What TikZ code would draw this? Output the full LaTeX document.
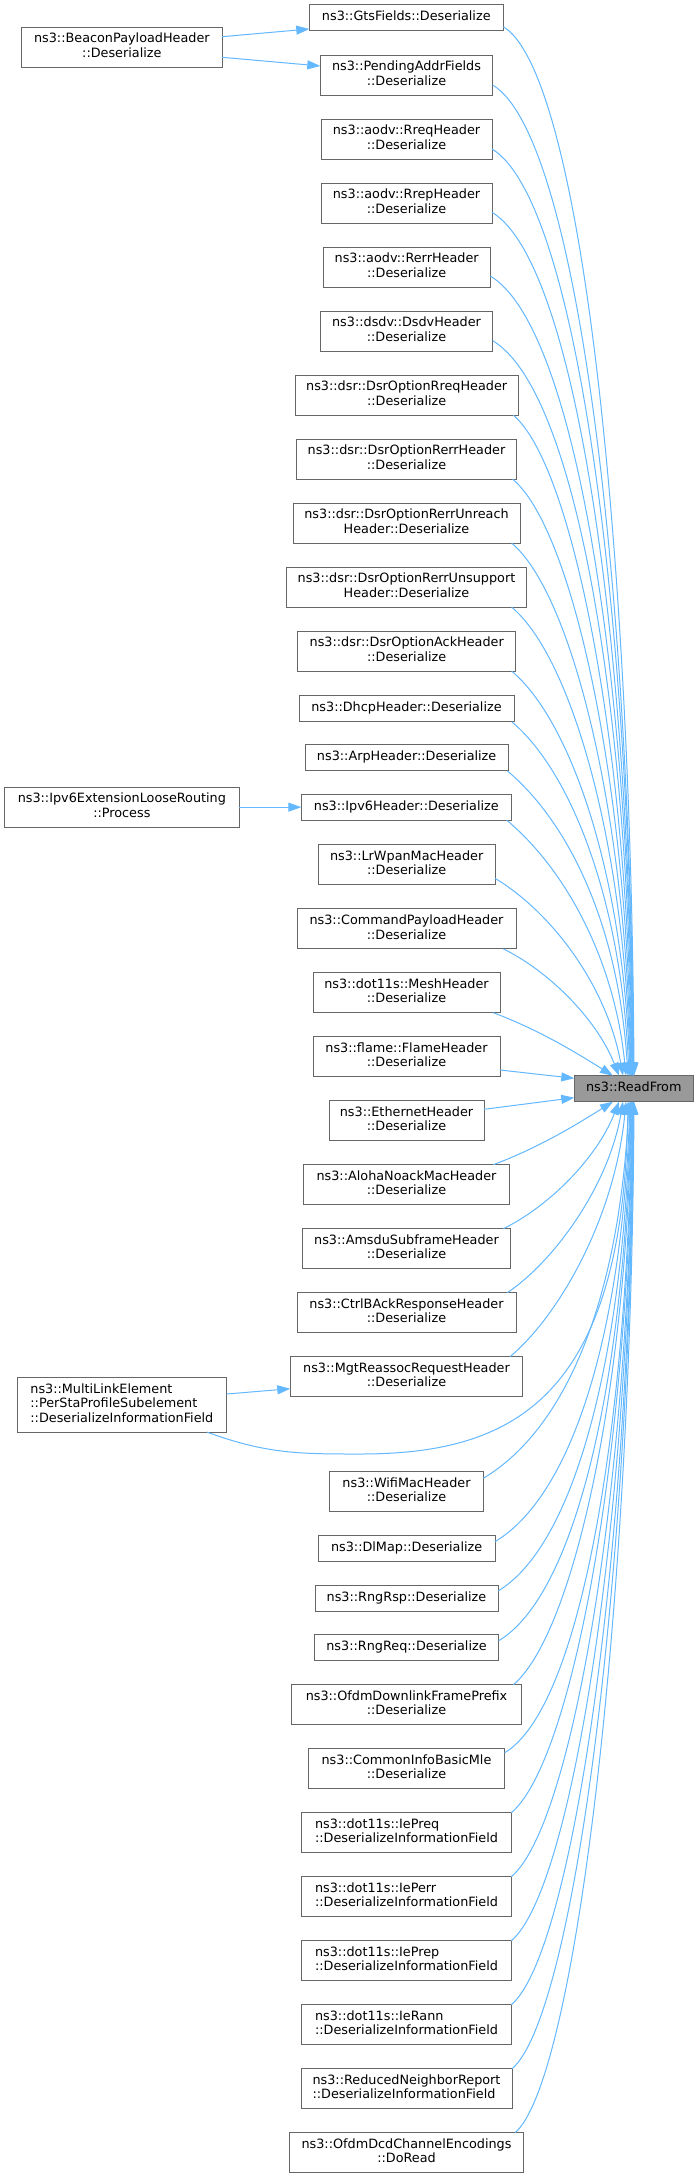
\documentclass[tikz,border=0pt]{standalone}
\usepackage{fontspec}
\setmainfont{DejaVu Sans}
\usetikzlibrary{arrows.meta,calc}
\definecolor{edgecol}{HTML}{63B8FF}
\definecolor{boxborder}{HTML}{666666}
\definecolor{rffill}{HTML}{999999}
\tikzset{
  box/.style={draw=boxborder, fill=white, line width=1pt, inner sep=0pt, outer sep=0pt,
    align=center, font=\fontsize{12.8}{14.5}\selectfont, text height=9pt, text depth=3pt,
    minimum height=26pt},
  two/.style={minimum height=40pt, text height=23.5pt},
  three/.style={minimum height=54.7pt, text height=38pt},
  lbox/.style={align=left},
  edge/.style={draw=edgecol, line width=1pt, -{Triangle[length=13pt,width=9pt]}},
}
\begin{document}
\begin{tikzpicture}[x=1pt,y=-1pt]
\useasboundingbox[fill=white] (0,0) rectangle (699,2178);
% left column
\node[box,two,minimum width=200.3pt] (beacon) at (121.85,47.15) {ns3::BeaconPayloadHeader\\::Deserialize};
\node[box,two,minimum width=234.3pt] (ipv6ext) at (121.85,807.15) {ns3::Ipv6ExtensionLooseRouting\\::Process};
\node[box,three,lbox,minimum width=209.7pt] (multilink) at (121.85,1404.65) {ns3::MultiLinkElement\\::PerStaProfileSubelement\\::DeserializeInformationField};
% middle column
\node[box,minimum width=194pt] (gts) at (406.3,18) {ns3::GtsFields::Deserialize};
\node[box,two,minimum width=172.4pt] (pending) at (406.5,75.15) {ns3::PendingAddrFields\\::Deserialize};
\node[box,two,minimum width=171pt] (rreq) at (406.5,139.15) {ns3::aodv::RreqHeader\\::Deserialize};
\node[box,two,minimum width=171pt] (rrep) at (406.5,203.15) {ns3::aodv::RrepHeader\\::Deserialize};
\node[box,two,minimum width=167.3pt] (rerr) at (406.65,267.15) {ns3::aodv::RerrHeader\\::Deserialize};
\node[box,two,minimum width=172.4pt] (dsdv) at (406.5,331.15) {ns3::dsdv::DsdvHeader\\::Deserialize};
\node[box,two,minimum width=223.3pt] (dsrrreq) at (406.65,395.15) {ns3::dsr::DsrOptionRreqHeader\\::Deserialize};
\node[box,two,minimum width=220.4pt] (dsrrerr) at (406.5,459.15) {ns3::dsr::DsrOptionRerrHeader\\::Deserialize};
\node[box,two,minimum width=227pt] (unreach) at (406.5,523.15) {ns3::dsr::DsrOptionRerrUnreach\\Header::Deserialize};
\node[box,two,minimum width=240.4pt] (unsupport) at (406.5,587.15) {ns3::dsr::DsrOptionRerrUnsupport\\Header::Deserialize};
\node[box,two,minimum width=218pt] (ack) at (406.7,651.15) {ns3::dsr::DsrOptionAckHeader\\::Deserialize};
\node[box,minimum width=215pt] (dhcp) at (406.5,708.7) {ns3::DhcpHeader::Deserialize};
\node[box,minimum width=203.3pt] (arp) at (406.65,757.85) {ns3::ArpHeader::Deserialize};
\node[box,minimum width=210pt] (ipv6) at (406.3,807.15) {ns3::Ipv6Header::Deserialize};
\node[box,two,minimum width=176.7pt] (lrwpan) at (406.65,864.5) {ns3::LrWpanMacHeader\\::Deserialize};
\node[box,two,minimum width=219pt] (command) at (406.5,928.85) {ns3::CommandPayloadHeader\\::Deserialize};
\node[box,two,minimum width=187pt] (mesh) at (406.5,992.7) {ns3::dot11s::MeshHeader\\::Deserialize};
\node[box,two,minimum width=187pt] (flame) at (406.5,1056.7) {ns3::flame::FlameHeader\\::Deserialize};
\node[box,two,minimum width=155pt] (ethernet) at (406.5,1120.7) {ns3::EthernetHeader\\::Deserialize};
\node[box,two,minimum width=205.6pt] (aloha) at (406.5,1184.7) {ns3::AlohaNoackMacHeader\\::Deserialize};
\node[box,two,minimum width=208.4pt] (amsdu) at (406.5,1248.7) {ns3::AmsduSubframeHeader\\::Deserialize};
\node[box,two,minimum width=219pt] (ctrlback) at (406.5,1312.7) {ns3::CtrlBAckResponseHeader\\::Deserialize};
\node[box,two,minimum width=232.4pt] (mgt) at (406.5,1376.7) {ns3::MgtReassocRequestHeader\\::Deserialize};
\node[box,two,minimum width=153.6pt] (wifimac) at (406.5,1491.3) {ns3::WifiMacHeader\\::Deserialize};
\node[box,minimum width=176.7pt] (dlmap) at (406.65,1548.65) {ns3::DlMap::Deserialize};
\node[box,minimum width=183pt] (rngrsp) at (406.5,1598) {ns3::RngRsp::Deserialize};
\node[box,minimum width=184.4pt] (rngreq) at (406.5,1647.35) {ns3::RngReq::Deserialize};
\node[box,two,minimum width=229.6pt] (ofdmdl) at (406.5,1704.7) {ns3::OfdmDownlinkFramePrefix\\::Deserialize};
\node[box,two,minimum width=196.4pt] (commoninfo) at (406.5,1768.7) {ns3::CommonInfoBasicMle\\::Deserialize};
\node[box,two,lbox,minimum width=209.6pt] (iepreq) at (406.5,1832.7) {ns3::dot11s::IePreq\\::DeserializeInformationField};
\node[box,two,lbox,minimum width=209.6pt] (ieperr) at (406.5,1896.7) {ns3::dot11s::IePerr\\::DeserializeInformationField};
\node[box,two,lbox,minimum width=209.6pt] (ieprep) at (406.5,1960.7) {ns3::dot11s::IePrep\\::DeserializeInformationField};
\node[box,two,lbox,minimum width=209.6pt] (ierann) at (406.5,2024.7) {ns3::dot11s::IeRann\\::DeserializeInformationField};
\node[box,two,lbox,minimum width=211pt] (reduced) at (406.5,2088.7) {ns3::ReducedNeighborReport\\::DeserializeInformationField};
\node[box,two,minimum width=233.6pt] (ofdmdcd) at (406.5,2152.7) {ns3::OfdmDcdChannelEncodings\\::DoRead};
% target
\node[box,fill=rffill,minimum width=119pt] (rf) at (633.8,1088.7) {ns3::ReadFrom};
% left-to-middle edges
\draw[edge] ($(beacon.east)+(0,-10.45)$) -- ($(gts.west)+(0,11)$);
\draw[edge] ($(beacon.east)+(0,10.15)$) -- ($(pending.west)+(0,-9.15)$);
\draw[edge] (ipv6ext.east) -- (ipv6.west);
\draw[edge] ($(multilink.east)+(0,-10.65)$) -- ($(mgt.west)+(0,12)$);
% edges into ReadFrom from above
\draw[edge] ($(gts.east)+(0,8.7)$) .. controls +(78.4,47.1) and +(-3,-524.5) .. ($(rf.north west)+(59.7,0)$);
\draw[edge] ($(pending.east)+(0,9.85)$) .. controls +(84.5,50.7) and +(-3.5,-495) .. ($(rf.north west)+(59.2,0)$);
\draw[edge] ($(rreq.east)+(0,9.85)$) .. controls +(84.9,50.9) and +(-3.7,-463) .. ($(rf.north west)+(59.2,0)$);
\draw[edge] ($(rrep.east)+(0,9.15)$) .. controls +(84.6,50.8) and +(-4,-432) .. ($(rf.north west)+(58.7,0)$);
\draw[edge] ($(rerr.east)+(0,8.85)$) .. controls +(85.6,51.4) and +(-4.4,-400) .. ($(rf.north west)+(58.7,0)$);
\draw[edge] ($(dsdv.east)+(0,9.55)$) .. controls +(83.9,50.3) and +(-4.7,-367.5) .. ($(rf.north west)+(58.2,0)$);
\draw[edge] ($(dsrrreq.south east)+(-5,0)$) .. controls +(59.4,49.9) and +(-4.4,-330) .. ($(rf.north west)+(57.7,0)$);
\draw[edge] ($(dsrrerr.south east)+(-4,0)$) .. controls +(59.4,49.9) and +(-4.9,-298) .. ($(rf.north west)+(57.2,0)$);
\draw[edge] ($(unreach.south east)+(-8.3,0)$) .. controls +(59.7,50.1) and +(-5.5,-266) .. ($(rf.north west)+(56.7,0)$);
\draw[edge] ($(unsupport.south east)+(-15,0)$) .. controls +(59.4,49.9) and +(-6.2,-234) .. ($(rf.north west)+(56.2,0)$);
\draw[edge] ($(ack.south east)+(-4,0)$) .. controls +(59.2,49.7) and +(-7.2,-202) .. ($(rf.north west)+(55.7,0)$);
\draw[edge] ($(dhcp.south east)+(-2.3,0)$) .. controls +(58.7,49.3) and +(-8.1,-177) .. ($(rf.north west)+(54.7,0)$);
\draw[edge] ($(arp.south east)+(-1,0)$) .. controls +(60.4,50.7) and +(-9.7,-152.5) .. ($(rf.north west)+(53.7,0)$);
\draw[edge] ($(ipv6.south east)+(-4.6,0)$) .. controls +(59.7,50.1) and +(-11.4,-115) .. ($(rf.north west)+(51.7,0)$);
\draw[edge] ($(lrwpan.east)+(0,13.8)$) .. controls +(57.6,34.6) and +(-15.9,-88.8) .. ($(rf.north west)+(48.7,0)$);
\draw[edge] ($(command.south east)+(-12.7,0)$) .. controls +(45,22) and +(-22.4,-57) .. ($(rf.north west)+(44.7,0)$);
\draw[edge] ($(mesh.south east)+(-6.7,0)$) .. controls +(45,17) and +(-40,-25) .. ($(rf.north west)+(38.7,0)$);
\draw[edge] ($(flame.east)+(0,13.3)$) -- ($(rf.west)+(0,-10.4)$);
\draw[edge] ($(ethernet.east)+(0,-11.4)$) -- ($(rf.west)+(0,9)$);
% edges into ReadFrom from below
\draw[edge] ($(aloha.north east)+(-16,0)$) .. controls +(45,-17) and +(-40,25) .. ($(rf.south west)+(38.7,0)$);
\draw[edge] ($(amsdu.north east)+(-7.4,0)$) .. controls +(45,-22) and +(-22.4,57) .. ($(rf.south west)+(44.7,0)$);
\draw[edge] ($(ctrlback.north east)+(-8.7,0)$) .. controls +(45,-30) and +(-14.8,86) .. ($(rf.south west)+(48.7,0)$);
\draw[edge] ($(mgt.north east)+(-12.7,0)$) .. controls +(50,-42) and +(-11.1,115) .. ($(rf.south west)+(51.7,0)$);
\draw[edge] ($(multilink.south east)+(-20,0)$) .. controls +(60,22) and +(-60,0) .. (360,1454) .. controls +(150,0) and +(-5,300) .. ($(rf.south west)+(53.7,0)$);
\draw[edge] ($(wifimac.east)+(0,-13)$) .. controls +(87.4,-52.5) and +(-9.5,188) .. ($(rf.south west)+(54.7,0)$);
\draw[edge] ($(dlmap.east)+(0,-7)$) .. controls +(81,-48.6) and +(-7.5,220) .. ($(rf.south west)+(55.7,0)$);
\draw[edge] ($(rngrsp.east)+(0,-7)$) .. controls +(79.5,-47.7) and +(-6.6,244.7) .. ($(rf.south west)+(56.2,0)$);
\draw[edge] ($(rngreq.east)+(0,-6.65)$) .. controls +(79.4,-47.6) and +(-6,269.5) .. ($(rf.south west)+(56.7,0)$);
\draw[edge] ($(ofdmdl.north east)+(-8,0)$) .. controls +(59.1,-49.6) and +(-5,291.5) .. ($(rf.south west)+(57.2,0)$);
\draw[edge] ($(commoninfo.east)+(0,-16)$) .. controls +(76.4,-45.8) and +(-4.8,325.5) .. ($(rf.south west)+(57.7,0)$);
\draw[edge] (iepreq.north east) .. controls +(60.6,-50.9) and +(-4.2,355.5) .. ($(rf.south west)+(58.2,0)$);
\draw[edge] (ieperr.north east) .. controls +(60.9,-51.1) and +(-3.8,387.5) .. ($(rf.south west)+(58.7,0)$);
\draw[edge] (ieprep.north east) .. controls +(60.9,-51.1) and +(-3.5,419.5) .. ($(rf.south west)+(58.7,0)$);
\draw[edge] (ierann.north east) .. controls +(61.1,-51.3) and +(-3.3,451.5) .. ($(rf.south west)+(59.2,0)$);
\draw[edge] (reduced.north east) .. controls +(60.8,-51) and +(-3.1,483.5) .. ($(rf.south west)+(59.2,0)$);
\draw[edge] ($(ofdmdcd.north east)+(-8.3,0)$) .. controls +(59.5,-50) and +(-2.8,515.5) .. ($(rf.south west)+(59.7,0)$);
\end{tikzpicture}
\end{document}
